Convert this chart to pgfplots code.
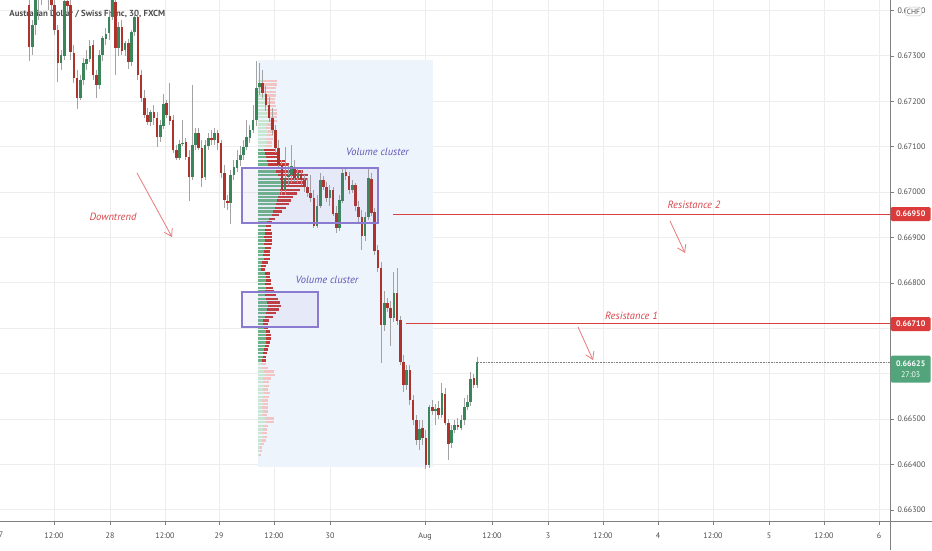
\documentclass[border=0pt]{standalone}
\usepackage{pgfplots}
\pgfplotsset{compat=1.18}
\usepackage{pgfplotstable}
\usetikzlibrary{arrows.meta}
\usepackage{fontspec}
\setmainfont{PT Sans}
\definecolor{gridc}{HTML}{EDEDED}
\definecolor{axisc}{HTML}{808080}
\definecolor{tlabc}{HTML}{4D4D4D}
\definecolor{wickc}{HTML}{A3A3A3}
\definecolor{upc}{HTML}{3A8559}
\definecolor{dnc}{HTML}{AE332D}
\definecolor{vpg}{HTML}{6DB38A}
\definecolor{vpr}{HTML}{C23B3B}
\definecolor{vpgp}{HTML}{C9E6D3}
\definecolor{vprp}{HTML}{F2C4C4}
\definecolor{bluebg}{HTML}{EEF4FC}
\definecolor{boxc}{HTML}{8A7BD1}
\definecolor{annpur}{HTML}{6356B8}
\definecolor{annred}{HTML}{D8464B}
\definecolor{arrc}{HTML}{E87A7C}
\definecolor{resred}{HTML}{D9403F}
\definecolor{tagred}{HTML}{DC3B3B}
\definecolor{taggreen}{HTML}{52A57B}

\pgfplotstableread{
i o h l c
0 67412 67434 67291 67319
1 67319 67379 67302 67368
2 67368 67445 67346 67423
3 67423 67467 67379 67445
4 67445 67489 67412 67456
5 67456 67489 67423 67434
6 67434 67467 67401 67441
7 67441 67456 67401 67412
8 67412 67434 67346 67357
9 67357 67368 67242 67284
10 67284 67313 67269 67302
11 67302 67445 67291 67423
12 67423 67456 67390 67412
13 67412 67423 67291 67308
14 67308 67324 67242 67253
15 67253 67269 67185 67209
16 67209 67258 67203 67247
17 67247 67295 67236 67284
18 67284 67313 67269 67295
19 67295 67335 67286 67324
20 67324 67335 67247 67258
21 67258 67269 67207 67236
22 67236 67313 67229 67302
23 67302 67346 67291 67339
24 67339 67361 67324 67350
25 67350 67401 67335 67386
26 67386 67445 67379 67423
27 67419 67434 67258 67319
28 67319 67375 67302 67364
29 67364 67379 67302 67313
30 67313 67335 67302 67328
31 67328 67339 67273 67286
32 67286 67357 67278 67353
33 67353 67390 67344 67386
34 67386 67397 67247 67258
35 67258 67269 67198 67207
36 67207 67225 67163 67170
37 67170 67185 67148 67154
38 67154 67181 67146 67176
39 67176 67192 67148 67163
40 67163 67176 67099 67121
41 67121 67159 67110 67148
42 67148 67218 67141 67196
43 67196 67203 67163 67170
44 67170 67240 67148 67159
45 67159 67170 67088 67093
46 67093 67104 67071 67077
47 67077 67115 67071 67108
48 67108 67159 67101 67110
49 67110 67119 67071 67077
50 67077 67093 66982 67033
51 67033 67236 67027 67104
52 67104 67141 67093 67132
53 67132 67141 67093 67099
54 67099 67115 67011 67033
55 67033 67115 67027 67104
56 67104 67132 67093 67121
57 67121 67137 67104 67115
58 67115 67141 67104 67130
59 67130 67137 67093 67108
60 67108 67115 67031 67042
61 67042 67060 66967 66982
62 66982 66994 66960 66976
63 66976 67049 66932 67038
64 67038 67071 67027 67055
65 67055 67093 67044 67071
66 67071 67104 67060 67082
67 67082 67115 67071 67099
68 67099 67159 67093 67121
69 67121 67148 67110 67137
70 67137 67192 67130 67159
71 67159 67291 67148 67231
72 67231 67286 67214 67240
73 67240 67269 67209 67218
74 67218 67236 67181 67192
75 67192 67209 67154 67163
76 67163 67185 67126 67137
77 67137 67148 67088 67097
78 67097 67115 67053 67060
79 67060 67071 66994 67005
80 67005 67099 66994 67033
81 67033 67060 67016 67038
82 67038 67104 67022 67057
83 67057 67071 67022 67031
84 67031 67053 67022 67042
85 67042 67049 67016 67027
86 67027 67038 67000 67011
87 67011 67031 66989 66998
88 66998 67038 66978 66987
89 66987 67005 66921 66927
90 66927 66994 66921 66971
91 66971 67042 66965 67027
92 67027 67035 67005 67011
93 67011 67022 66978 66987
94 66987 67016 66971 67005
95 67005 67013 66949 66954
96 66954 66971 66912 66921
97 66921 66994 66916 66982
98 66982 67055 66976 67044
99 67044 67053 67027 67035
100 67035 67044 66996 67005
101 67005 67027 67000 67016
102 67016 67022 66960 66969
103 66969 66982 66934 66945
104 66945 66960 66872 66905
105 66905 66956 66894 66945
106 66945 67053 66938 67031
107 67031 67044 66949 66956
108 66956 66965 66861 66872
109 66872 66883 66824 66833
110 66833 66846 66623 66707
111 66707 66784 66696 66756
112 66756 66767 66736 66745
113 66745 66762 66663 66723
114 66723 66824 66714 66778
115 66778 66833 66707 66718
116 66718 66729 66619 66626
117 66626 66641 66560 66575
118 66575 66619 66564 66608
119 66608 66619 66531 66542
120 66542 66553 66487 66498
121 66498 66509 66443 66454
122 66454 66498 66432 66480
123 66480 66498 66443 66458
124 66458 66476 66390 66399
125 66399 66531 66392 66527
126 66527 66542 66509 66520
127 66520 66535 66487 66524
128 66524 66542 66502 66509
129 66509 66579 66502 66557
130 66557 66568 66487 66493
131 66493 66502 66410 66447
132 66447 66487 66436 66476
133 66476 66498 66469 66487
134 66487 66502 66476 66482
135 66482 66509 66476 66498
136 66498 66546 66487 66527
137 66527 66553 66520 66538
138 66538 66604 66529 66590
139 66590 66599 66568 66575
140 66575 66637 66568 66625
}\candles

\pgfplotstableread{
p g r
67245 5 14
67237 4 15
67229 6 12
67221 5 13
67213 7 11
67205 9 8
67197 10 7
67189 12 6
67181 11 8
67173 10 9
67165 12 7
67157 11 8
67149 9 6
67141 8 7
67133 10 6
67125 9 6
67117 8 7
67109 9 5
67101 7 7
67093 6 11
67085 7 13
67077 8 14
67069 9 19
67061 10 21
67053 14 24
67045 18 27
67037 20 30
67029 22 28
67021 23 24
67013 23 22
67005 22 20
66997 22 17
66989 20 15
66981 19 14
66973 18 13
66965 17 11
66957 15 9
66949 14 7
66941 11 6
66933 9 5
66925 8 5
66917 7 6
66909 7 7
66901 6 8
66893 7 7
66885 6 8
66877 7 6
66869 6 6
66861 5 7
66853 6 6
66845 4 6
66837 3 5
66829 3 4
66821 7 5
66813 8 4
66805 8 5
66797 7 6
66789 8 7
66781 7 9
66773 7 11
66765 8 12
66757 9 13
66749 10 13
66741 9 12
66733 8 10
66725 7 8
66717 5 6
66709 5 5
66701 6 4
66693 8 4
66685 8 5
66677 8 5
66669 8 4
66661 7 4
66653 6 4
66645 5 4
66637 5 3
66629 4 4
66621 3 5
66613 4 6
66605 6 10
66597 7 10
66589 5 8
66581 5 6
66573 6 5
66565 5 5
66557 6 6
66549 5 6
66541 4 6
66533 5 5
66525 4 6
66517 5 5
66509 4 5
66501 7 9
66493 8 8
66485 5 5
66477 5 4
66469 4 5
66461 5 4
66453 4 4
66445 3 3
66437 2 2
66429 2 1
66421 1 1
}\profile

\pgfplotsset{
  vpbar/.style={draw=none, forget plot, mark=none,
    error bars/.cd, x dir=both, x explicit, error mark=none,
    error bar style={draw=#1, line width=2.4pt, solid}},
  cbar/.style 2 args={draw=none, forget plot, mark=none,
    error bars/.cd, y dir=both, y explicit, error mark=none,
    error bar style={draw=#1, line width=#2, solid}},
}

\begin{document}
\begin{tikzpicture}
\useasboundingbox (0pt,-29pt) rectangle (932pt,521pt);
\fill[white] (0pt,-29pt) rectangle (932pt,521pt);
\begin{axis}[
  at={(0pt,0pt)}, anchor=south west,
  scale only axis, width=890pt, height=521pt,
  xmin=-9.0625, xmax=269.0625,
  ymin=66275.4, ymax=67423,
  axis x line*=bottom, axis y line*=right,
  axis line style={draw=none},
  xtick={7.8125,25.3125,42.5,59.375,76.5625,94.0625,123.75,144.6875,162.1875,179.375,196.5625,213.75,231.25,248.4375,265.625},
  xticklabels={12:00,28,12:00,29,12:00,30,Aug,12:00,3,12:00,4,12:00,5,12:00,6},
  ytick={66300,66400,66500,66600,66700,66800,66900,67000,67100,67200,67300,67400},
  yticklabels={0.66300,0.66400,0.66500,0.66600,0.66700,0.66800,0.66900,0.67000,0.67100,0.67200,0.67300,0.67400},
  tick align=outside, major tick length=4pt,
  tick style={draw=axisc, line width=0.6pt},
  grid=major, major grid style={draw=gridc, line width=0.7pt},
  ticklabel style={font=\fontsize{8}{9}\selectfont, text=tlabc},
  xticklabel style={yshift=-4pt},
  clip mode=individual,
]
% title (under the candles)
\node[anchor=west, font=\bfseries\fontsize{8.8}{10}\selectfont, text=tlabc] at (rel axis cs:0.0067,0.9731) {Australian Dollar / Swiss Franc, 30, FXCM};

% fixed range background
\addplot[fill=bluebg, draw=none, forget plot] coordinates {(71.5625,67291) (126.25,67291) (126.25,66394) (71.5625,66394)} -- cycle;

% volume profile: value area
\addplot[restrict y to domain=66628:67094, vpbar={vpg}] table[x expr={71.5625+\thisrow{g}/6.4}, y=p, x error expr={\thisrow{g}/6.4}] {\profile};
\addplot[restrict y to domain=66628:67094, vpbar={vpr}] table[x expr={71.5625+(\thisrow{g}+\thisrow{r}/2)/3.2}, y=p, x error expr={\thisrow{r}/6.4}] {\profile};
% outside value area
\addplot[restrict y to domain=67095:67300, vpbar={vpgp}] table[x expr={71.5625+\thisrow{g}/6.4}, y=p, x error expr={\thisrow{g}/6.4}] {\profile};
\addplot[restrict y to domain=67095:67300, vpbar={vprp}] table[x expr={71.5625+(\thisrow{g}+\thisrow{r}/2)/3.2}, y=p, x error expr={\thisrow{r}/6.4}] {\profile};
\addplot[restrict y to domain=66300:66627, vpbar={vpgp}] table[x expr={71.5625+\thisrow{g}/6.4}, y=p, x error expr={\thisrow{g}/6.4}] {\profile};
\addplot[restrict y to domain=66300:66627, vpbar={vprp}] table[x expr={71.5625+(\thisrow{g}+\thisrow{r}/2)/3.2}, y=p, x error expr={\thisrow{r}/6.4}] {\profile};

% candles: wicks
\addplot[cbar={wickc}{0.8pt}] table[x=i, y expr={(\thisrow{h}+\thisrow{l})/2}, y error expr={(\thisrow{h}-\thisrow{l})/2}] {\candles};
% up bodies
\addplot[restrict expr to domain={\thisrow{c}-\thisrow{o}}{0:100000}, cbar={upc}{2.6pt}] table[x=i, y expr={(\thisrow{o}+\thisrow{c})/2}, y error expr={max(abs(\thisrow{c}-\thisrow{o})/2,1)}] {\candles};
% down bodies
\addplot[restrict expr to domain={\thisrow{c}-\thisrow{o}}{-100000:-0.5}, cbar={dnc}{2.6pt}] table[x=i, y expr={(\thisrow{o}+\thisrow{c})/2}, y error expr={max(abs(\thisrow{c}-\thisrow{o})/2,1)}] {\candles};

% volume cluster boxes
\addplot[draw=boxc, line width=2.6pt, fill=boxc, fill opacity=0.08, draw opacity=1, forget plot] coordinates {(66.5625,67053) (109.0625,67053) (109.0625,66932) (66.5625,66932)} -- cycle;
\addplot[draw=boxc, line width=2.6pt, fill=boxc, fill opacity=0.08, draw opacity=1, forget plot] coordinates {(66.5625,66780) (90.3125,66780) (90.3125,66703) (66.5625,66703)} -- cycle;

% resistance levels
\addplot[resred, line width=1.3pt, forget plot] coordinates {(113.75,66950) (269.0625,66950)};
\addplot[resred, line width=1.3pt, forget plot] coordinates {(117.8125,66710) (269.0625,66710)};
% last price
\addplot[axisc, densely dotted, line width=0.6pt, forget plot] coordinates {(140.3,66625) (269.0625,66625)};
\end{axis}

% axis lines
\draw[axisc, line width=0.9pt] (0pt,0pt) -- (932pt,0pt);
\draw[axisc, line width=0.9pt] (890pt,-29pt) -- (890pt,521pt);
\node[font=\fontsize{8}{9}\selectfont, text=tlabc] at (-1pt,-14pt) {27};

% annotations
\node[font=\itshape\fontsize{10.5}{12}\selectfont, text=annpur] at (377.5pt,369pt) {Volume cluster};
\node[font=\itshape\fontsize{10.5}{12}\selectfont, text=annpur] at (327pt,241pt) {Volume cluster};
\node[font=\itshape\fontsize{10.5}{12}\selectfont, text=annred] at (113pt,304pt) {Downtrend};
\node[font=\itshape\fontsize{10.5}{12}\selectfont, text=annred] at (694pt,316pt) {Resistance 2};
\node[font=\itshape\fontsize{10.5}{12}\selectfont, text=annred] at (631.5pt,205pt) {Resistance 1};
\draw[arrc, line width=0.8pt, -{Straight Barb[length=7pt,width=9pt]}] (137pt,348pt) -- (172pt,284pt);
\draw[arrc, line width=0.8pt, -{Straight Barb[length=7pt,width=9pt]}] (670pt,300pt) -- (685pt,268pt);
\draw[arrc, line width=0.8pt, -{Straight Barb[length=7pt,width=9pt]}] (578pt,194pt) -- (593pt,161pt);

% price tags
\node[fill=tagred, text=white, font=\bfseries\fontsize{8}{9}\selectfont, minimum width=40pt, minimum height=14pt, inner sep=0pt, anchor=west, rounded corners=1.5pt] at (890.5pt,307pt) {0.66950};
\node[fill=tagred, text=white, font=\bfseries\fontsize{8}{9}\selectfont, minimum width=40pt, minimum height=14pt, inner sep=0pt, anchor=west, rounded corners=1.5pt] at (890.5pt,197pt) {0.66710};
\node[fill=taggreen, text=white, font=\fontsize{8}{10.5}\selectfont, minimum width=40pt, minimum height=27pt, inner sep=0pt, anchor=north west, rounded corners=1.5pt, align=center] at (890.5pt,165.5pt) {\textbf{0.66625}\\27:03};
\node[draw=gray!50, fill=white, rounded corners=3pt, inner sep=1.6pt, font=\fontsize{7.5}{8}\selectfont, text=tlabc] at (913.5pt,509.5pt) {CHF};
\end{tikzpicture}
\end{document}
